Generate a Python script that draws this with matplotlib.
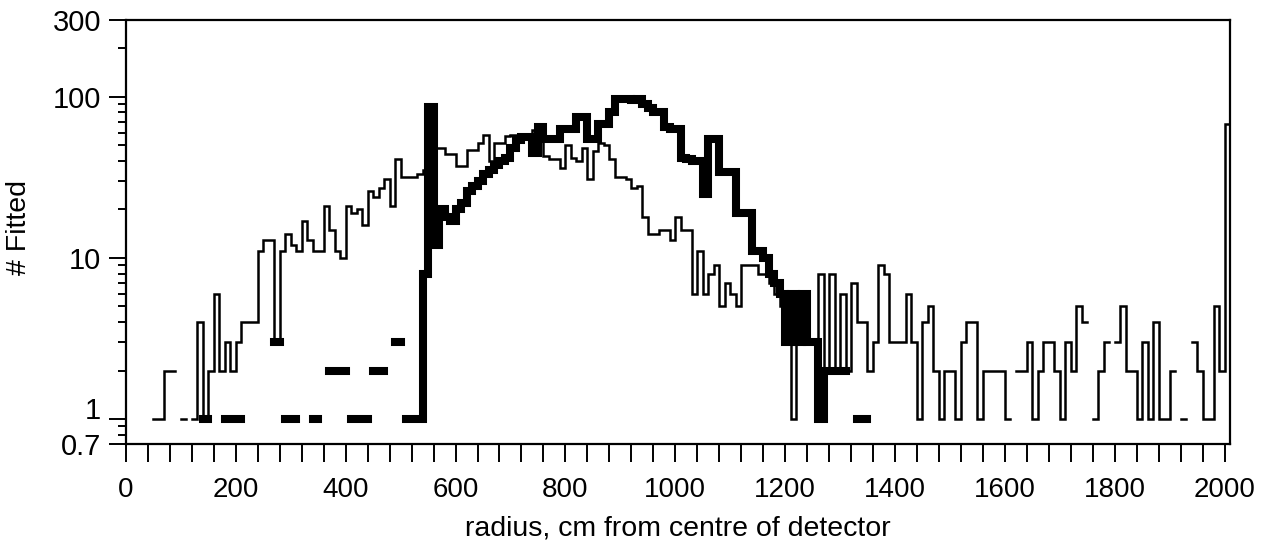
import numpy as np
import matplotlib.pyplot as plt
from matplotlib.transforms import ScaledTranslation

plt.rcParams['font.family'] = ['Liberation Sans', 'DejaVu Sans']

# histogram data, 10 cm bins; 0 = empty bin (not drawn on log scale)
bin_width = 10

# thin histogram, first bin starts at 50 cm
thin_start = 50
thin_counts = [
    1, 1, 2, 2, 0, 1, 0, 1, 4, 1, 2, 6, 2, 3, 2, 3, 4, 4, 4, 11, 13, 13, 3, 11, 14,   # 50-290
    12, 11, 17, 13, 11, 11, 21, 15, 11, 10,      # 300
    21, 19, 20, 16, 26, 24, 27, 31, 21, 41,      # 400
    32, 32, 32, 33, 35, 35, 48, 48, 44, 44,      # 500
    37, 37, 47, 47, 52, 58, 40, 52, 52, 57,      # 600
    58, 58, 58, 58, 62, 55, 43, 41, 41, 36,      # 700
    50, 42, 40, 48, 31, 46, 52, 50, 41, 32,      # 800
    32, 31, 27, 28, 18, 14, 14, 15, 15, 13,      # 900
    18, 15, 15, 6, 11, 6, 8, 9, 5, 7,            # 1000
    6, 5, 9, 9, 9, 8, 8, 7, 6, 5,                # 1100
    5, 1, 3, 3, 3, 3, 8, 2, 8, 2,                # 1200
    6, 2, 7, 4, 4, 2, 3, 9, 8, 3,                # 1300
    3, 3, 6, 3, 1, 4, 5, 2, 1, 2,                # 1400
    2, 1, 3, 4, 4, 1, 2, 2, 2, 2,                # 1500
    1, 0, 2, 2, 3, 1, 2, 3, 3, 2,                # 1600
    1, 3, 2, 5, 4, 0, 1, 2, 3, 0,                # 1700
    3, 5, 2, 2, 1, 3, 1, 4, 1, 1,                # 1800
    2, 0, 1, 0, 3, 2, 1, 1, 5, 2,                # 1900
    68,                                          # 2000
]

# thick histogram, first bin starts at 140 cm
thick_start = 140
thick_counts = [
    1, 0, 0, 0, 1, 1, 1, 0, 0, 0, 0, 0, 0, 3, 0, 1,   # 140-290
    1, 0, 0, 0, 1, 0, 0, 2, 2, 2,                # 300
    0, 1, 1, 1, 0, 2, 2, 0, 0, 3,                # 400
    0, 1, 1, 1, 8, 86, 12, 20, 18, 17,           # 500
    20, 22, 26, 28, 30, 33, 35, 38, 40, 42,      # 600
    48, 54, 56, 56, 45, 65, 55, 55, 55, 63,      # 700
    63, 63, 75, 75, 55, 55, 68, 68, 80, 97,      # 800
    97, 97, 95, 97, 90, 85, 80, 80, 65, 63,      # 900
    63, 42, 41, 40, 40, 25, 55, 55, 34, 34,      # 1000
    34, 19, 19, 19, 11, 11, 10, 8, 7, 6,         # 1100
    3, 6, 3, 6, 3, 3, 1, 2, 2, 2,                # 1200
    2, 0, 0, 1, 1,                               # 1300
]

x_major = list(range(0, 2001, 200))
x_minor = list(range(0, 2001, 40))
y_major = [0.7, 1, 10, 100, 300]
y_labels = ['0.7', '1', '10', '100', '300']
y_minor = [0.8, 0.9] + [m * d for d in (1, 10) for m in range(2, 10)] + [200]


def hist_arrays(start, counts):
    vals = np.array(counts, dtype=float)
    vals[vals == 0] = np.nan
    edges = start + bin_width * np.arange(len(counts) + 1)
    return vals, edges


fig = plt.figure(figsize=(12.66, 5.45), dpi=100)
ax = fig.add_axes([126 / 1266, 1 - 444 / 545, 1104 / 1266, 424 / 545])

v, e = hist_arrays(thin_start, thin_counts)
ax.stairs(v, e, baseline=None, fill=False, color='black', linewidth=1.8,
          joinstyle='miter', capstyle='projecting', zorder=2)
v, e = hist_arrays(thick_start, thick_counts)
ax.stairs(v, e, baseline=None, fill=False, color='black', linewidth=5.8,
          joinstyle='miter', capstyle='projecting', zorder=3)

ax.set_yscale('log')
ax.set_xlim(0, 2010)
ax.set_ylim(0.7, 300)

ax.set_xticks(x_major)
ax.set_xticks(x_minor, minor=True)
ax.set_xticklabels([str(t) for t in x_major], fontsize=20)
ax.set_yticks(y_major)
ax.set_yticks(y_minor, minor=True)
ax.set_yticklabels(y_labels, fontsize=21)
ax.yaxis.set_minor_formatter(plt.NullFormatter())

ax.tick_params(axis='x', which='both', direction='out', length=13, width=1.4, pad=11)
ax.tick_params(axis='y', which='major', direction='out', length=12, width=1.4, pad=6)
ax.tick_params(axis='y', which='minor', direction='out', length=6, width=1.4)

# lift the "1" label clear of "0.7"
lab = ax.get_yticklabels()[1]
lab.set_transform(lab.get_transform() + ScaledTranslation(0, 8 / 72, fig.dpi_scale_trans))

for s in ax.spines.values():
    s.set_linewidth(1.6)

ax.set_xlabel('radius, cm from centre of detector', fontsize=20.5)
ax.set_ylabel('# Fitted', fontsize=20.5)
ax.xaxis.set_label_coords(0.5, -0.168)
ax.yaxis.set_label_coords(-0.085, 0.51)

fig.savefig('out.png', dpi=100)
